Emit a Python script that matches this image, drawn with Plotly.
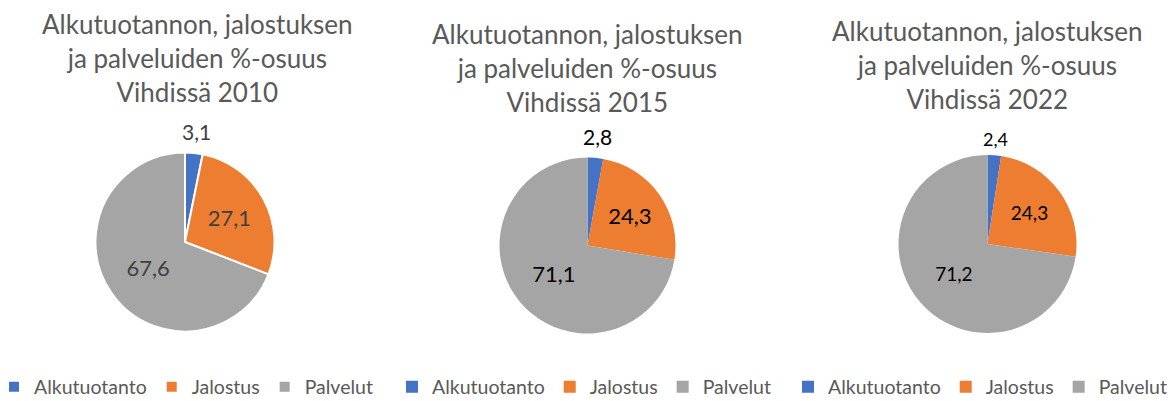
import math
import plotly.graph_objects as go

W, H = 1172, 401

categories = ["Alkutuotanto", "Jalostus", "Palvelut"]
years = ["2010", "2015", "2022"]
values_2010 = [3.1, 27.1, 67.6]
values_2015 = [2.8, 24.3, 71.1]
values_2022 = [2.4, 24.3, 71.2]
colors = ["#4472C4", "#ED7D31", "#A5A5A5"]
title_text = "Alkutuotannon, jalostuksen<br>ja palveluiden %-osuus<br>Vihdissä {}"

FONT = "Lato, Carlito, 'Open Sans', sans-serif"

# layout (pixels, from top-left of the page)
centers = [(185, 242, 89.5), (587.5, 245.5, 88), (987.5, 244, 89)]
title_pos = [(197.5, 58), (587.5, 68), (987.5, 65)]
legend_pos = [(-6, "left"), (392, "left"), (1172, "right")]
legend_mid = 387
out_label_gap = [22, 21, 16]
label_sizes = [(21, 22), (21, 22), (18, 19)]
label_colors = ["#404040", "#000000", "#000000"]
border = [2, 0, 0]

def px(x):
    return x / W

def py(y):
    return 1 - y / H

def fmt(v):
    return f"{v:.1f}".replace(".", ",")

fig = go.Figure()
annotations = []
all_values = [values_2010, values_2015, values_2022]
for i, vals in enumerate(all_values):
    cx, cy, r = centers[i]
    leg = "legend" if i == 0 else f"legend{i+1}"
    out_size, in_size = label_sizes[i]
    fig.add_trace(go.Pie(
        labels=categories,
        values=vals,
        sort=False,
        direction="clockwise",
        rotation=0,
        marker=dict(colors=colors, line=dict(color="white", width=border[i])),
        texttemplate="%{value:.1f}",
        textposition=["none", "inside", "inside"],
        insidetextorientation="horizontal",
        textfont=dict(family=FONT, size=in_size, color=label_colors[i]),
        insidetextfont=dict(family=FONT, size=in_size, color=label_colors[i]),
        domain=dict(x=[px(cx - r), px(cx + r)], y=[py(cy + r), py(cy - r)]),
        legend=leg,
        legendgroup=f"pie{i}",
        showlegend=True,
        hoverinfo="label+value",
    ))
    # label of the small first slice, placed just outside its mid-angle
    total = sum(vals)
    ang = 2 * math.pi * (vals[0] / 2) / total
    rr = r + out_label_gap[i]
    lx = cx + rr * math.sin(ang)
    ly = cy - rr * math.cos(ang)
    annotations.append(dict(
        text=fmt(vals[0]), x=px(lx), y=py(ly), xref="paper", yref="paper",
        xanchor="center", yanchor="middle", showarrow=False,
        font=dict(family=FONT, size=out_size, color=label_colors[i]),
    ))

for i, y in enumerate(years):
    tx, ty = title_pos[i]
    annotations.append(dict(
        text=title_text.format(y), x=px(tx), y=py(ty), xref="paper", yref="paper",
        xanchor="center", yanchor="middle", showarrow=False,
        font=dict(family=FONT, size=26, color="#595959"),
    ))

leg_common = dict(orientation="h", yanchor="middle", y=py(legend_mid), traceorder="normal",
                  font=dict(family=FONT, size=19.5, color="#595959"),
                  bgcolor="rgba(0,0,0,0)", itemclick=False, itemdoubleclick=False)

legends = {}
for i, (lxp, anchor) in enumerate(legend_pos):
    key = "legend" if i == 0 else f"legend{i+1}"
    legends[key] = dict(x=px(lxp), xanchor=anchor, **leg_common)

fig.update_layout(
    width=W, height=H,
    margin=dict(l=0, r=0, t=0, b=0, autoexpand=False),
    paper_bgcolor="white",
    separators=", ",
    annotations=annotations,
    **legends,
)

fig.write_html(
    "out.html",
    config={"displayModeBar": False},
    post_script="document.body.style.margin='0';document.body.style.overflow='hidden';",
)
